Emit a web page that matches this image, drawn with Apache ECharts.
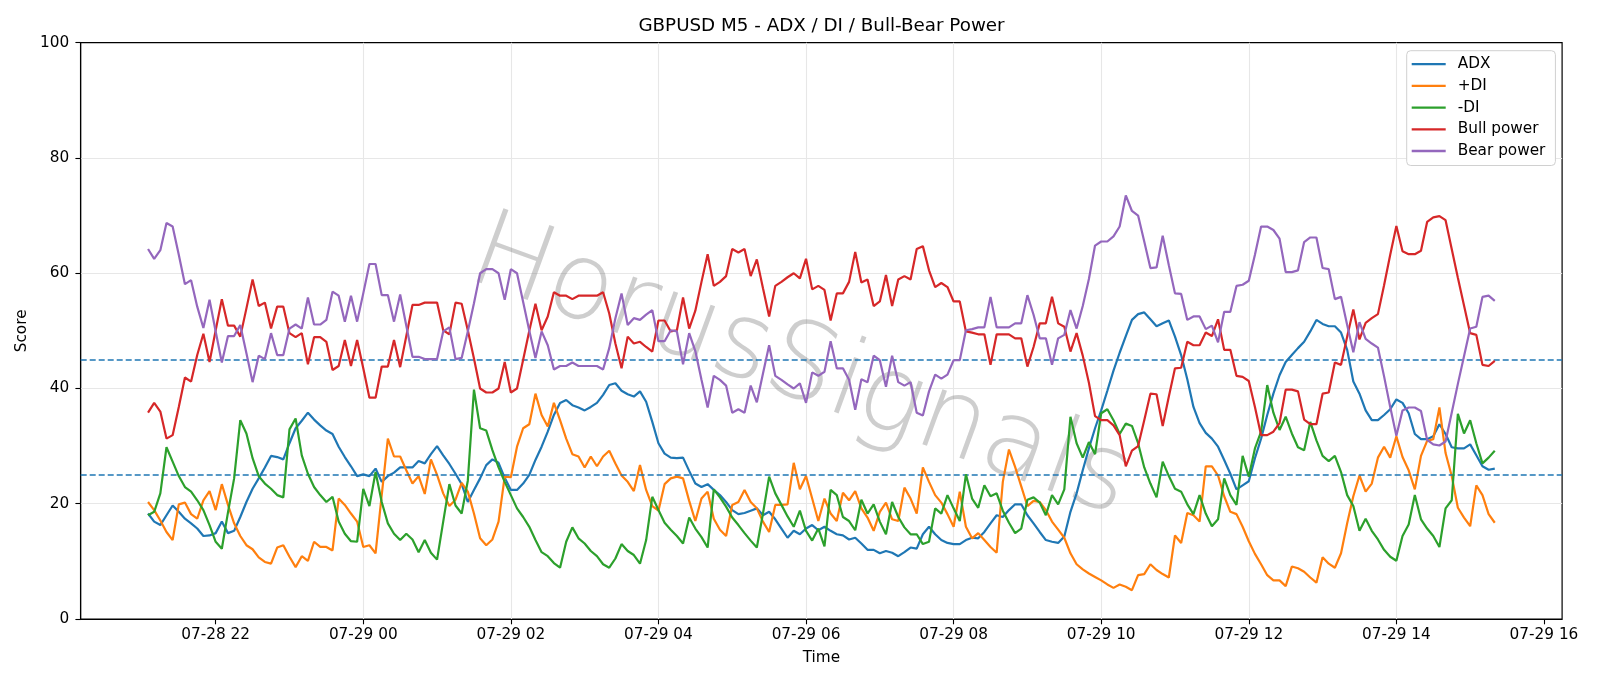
<!DOCTYPE html>
<html>
<head>
<meta charset="utf-8">
<script src="https://cdn.jsdelivr.net/npm/echarts@6/dist/echarts.min.js"></script>
<style>
html,body{margin:0;padding:0;background:#fff;}
#chart{width:1600px;height:686px;}
</style>
</head>
<body>
<div id="chart"></div>
<script>
// ---- data (M5 bars from 07-28 21:05 to 07-29 15:20, hours since 07-28 00:00) ----
const startHour = 21 + 5 / 60;
const stepHours = 5 / 60;
const xTicks = [22, 24, 26, 28, 30, 32, 34, 36, 38, 40];
const yTicks = [0, 20, 40, 60, 80, 100];
const seriesNames = ['ADX', '+DI', '-DI', 'Bull power', 'Bear power'];
const levels = [45, 25];

const adx = [
18.3,16.9,16.3,18.0,19.7,18.6,17.4,16.6,15.7,14.4,
14.5,14.9,16.9,14.9,15.3,17.7,20.3,22.6,24.4,26.3,
28.3,28.1,27.7,30.5,33.1,34.4,35.8,34.6,33.6,32.7,
32.1,29.9,28.1,26.5,24.8,25.1,24.8,26.1,
23.8,24.8,25.4,26.3,26.3,26.3,27.4,27.0,28.6,30.0,
28.4,26.9,25.2,23.4,20.3,22.4,24.4,26.7,27.7,27.1,
24.5,22.4,22.4,23.5,25.0,27.6,29.9,32.5,35.4,37.5,
38.0,37.1,36.7,36.2,36.8,37.5,38.9,40.6,
40.9,39.6,39.0,38.6,39.5,37.7,34.2,30.5,28.7,28.0,
27.9,28.0,25.7,23.5,22.9,23.4,22.4,21.5,20.3,18.9,
18.2,18.4,18.8,19.2,18.0,18.6,17.3,15.7,14.1,15.3,
14.7,15.7,16.3,15.4,16.0,15.3,14.7,
14.5,13.8,14.1,13.1,12.0,12.0,11.4,11.8,11.5,10.9,
11.6,12.4,12.2,14.7,16.0,14.7,13.7,13.2,13.0,13.0,
13.7,14.1,14.0,15.1,16.6,18.0,17.7,18.9,19.9,19.9,
18.0,16.6,15.1,13.7,13.4,13.2,14.3,18.6,
21.8,25.8,29.6,33.1,36.2,39.6,43.1,46.2,49.1,51.9,
52.9,53.2,52.0,50.8,51.3,51.8,49.0,45.8,41.6,36.8,
34.0,32.3,31.3,29.9,27.6,25.2,22.5,23.2,23.9,27.9,
31.3,35.4,39.1,42.3,44.6,45.8,47.0,
48.1,49.9,51.9,51.2,50.8,50.8,49.7,46.7,41.2,39.1,
36.2,34.5,34.5,35.4,36.4,38.1,37.5,35.7,32.1,31.2,
31.2,31.7,33.8,32.1,29.8,29.6,29.6,30.3,28.4,26.5,
25.9,26.1
];

const plusDI = [
20.3,18.9,17.1,15.1,13.7,19.9,20.2,18.2,17.4,20.6,
22.2,18.9,23.4,19.8,16.6,14.4,12.8,12.1,10.7,9.9,
9.6,12.4,12.8,10.8,9.0,10.9,10.1,13.4,12.5,12.5,
11.9,20.9,19.8,18.3,16.9,12.5,12.8,11.4,
21.5,31.3,28.2,28.2,25.8,23.5,24.8,21.7,27.7,25.0,
21.8,19.6,20.7,23.6,22.1,18.3,14.0,12.8,13.8,16.9,
24.7,24.6,29.9,33.1,33.8,39.1,35.4,33.4,37.5,34.5,
31.3,28.6,28.2,26.3,28.2,26.5,28.2,29.2,
27.0,24.9,23.8,22.2,26.7,22.4,19.6,18.8,23.4,24.4,
24.7,24.4,20.5,17.0,20.9,22.1,17.4,15.5,14.4,19.8,
20.3,22.4,20.3,19.2,16.9,15.1,19.8,19.8,19.9,27.1,
22.5,24.8,20.9,17.0,20.9,18.3,17.0,
21.9,20.6,22.2,19.2,17.6,15.3,18.6,20.2,17.3,17.0,
22.8,20.9,18.3,26.3,23.8,21.5,20.2,18.2,16.0,22.1,
16.0,14.0,14.9,13.7,12.5,11.5,23.8,29.4,26.4,23.0,
19.6,20.5,20.3,18.9,16.9,15.5,14.1,11.4,
9.5,8.6,7.9,7.3,6.7,6.0,5.4,6.0,5.6,5.0,
7.6,7.8,9.5,8.5,7.8,7.2,14.5,13.2,18.4,18.0,
16.9,26.5,26.5,24.9,21.3,18.6,18.2,16.0,13.5,11.3,
9.5,7.6,6.7,6.7,5.7,9.1,8.8,
8.2,7.2,6.3,10.7,9.6,8.9,11.4,16.6,21.3,24.9,
22.1,23.5,28.0,29.9,28.0,31.7,28.1,25.8,22.5,28.3,
30.9,31.2,36.7,28.8,24.8,19.3,17.6,16.1,23.2,21.5,
18.2,16.7
];

const minusDI = [
18.0,18.6,21.8,29.8,27.3,24.8,22.9,22.1,20.6,18.9,
16.3,13.4,12.2,18.5,24.4,34.5,32.2,27.9,24.8,23.5,
22.6,21.5,21.1,32.9,34.8,28.4,25.2,22.9,21.5,20.3,
21.2,16.9,14.8,13.5,13.4,22.6,19.6,25.5,
20.3,16.6,14.8,13.7,14.8,13.8,11.6,13.7,11.5,10.3,
16.9,23.4,19.7,18.3,24.0,39.8,33.1,32.7,29.3,26.3,
23.8,21.5,19.2,17.7,16.0,13.7,11.6,10.9,9.7,8.9,
13.4,15.9,14.0,13.1,11.8,10.9,9.5,8.9,
10.5,13.0,11.8,11.1,9.6,13.7,21.2,18.9,16.7,15.5,
14.4,13.1,17.6,15.7,14.2,12.4,22.5,21.1,19.5,17.6,
16.3,14.9,13.6,12.4,18.3,24.7,21.8,19.8,17.8,16.0,
18.8,15.3,13.6,15.7,12.6,22.4,21.5,
17.7,17.0,15.4,20.7,18.3,19.9,16.9,14.7,20.3,17.7,
15.9,14.7,14.7,13.0,13.4,19.2,18.3,21.5,19.2,17.0,
25.1,20.9,19.3,23.2,21.3,21.8,18.8,16.7,14.9,15.7,
20.7,21.1,20.2,18.0,21.5,19.9,22.5,35.1,
30.5,28.0,30.7,28.6,35.7,36.4,34.5,32.1,33.9,33.5,
30.5,26.3,23.5,21.1,27.3,24.8,22.6,22.1,19.9,18.2,
21.5,18.3,16.1,17.3,24.4,21.5,19.8,28.3,24.7,29.6,
32.5,40.6,35.8,32.8,35.1,32.2,29.8,
29.3,34.2,31.0,28.3,27.4,28.3,25.5,21.5,19.6,15.3,
17.4,15.3,13.8,12.0,10.8,10.1,14.4,16.4,21.5,17.3,
15.7,14.4,12.5,19.2,20.6,35.6,32.2,34.5,30.5,27.0,
28.0,29.2
];

const bullPower = [
35.8,37.5,36.0,31.3,31.9,36.8,41.9,41.2,45.8,49.5,
44.6,50.1,55.5,50.9,50.9,49.0,53.9,58.9,54.3,54.9,
50.4,54.2,54.2,49.6,48.9,49.6,44.2,48.9,48.9,48.1,
43.2,43.9,48.4,43.9,48.4,43.5,38.4,38.4,
43.8,43.8,48.4,43.7,49.1,54.5,54.5,54.9,54.9,54.9,
50.1,49.4,54.9,54.7,50.1,45.2,40.0,39.3,39.3,40.0,
44.6,39.3,40.0,45.0,50.0,54.7,50.1,52.5,56.7,56.1,
56.1,55.5,56.1,56.1,56.1,56.1,56.7,53.0,
47.8,43.5,49.0,47.8,48.1,47.2,46.4,51.8,51.8,49.9,
50.1,55.8,50.4,53.5,58.5,63.3,57.8,58.5,59.5,64.2,
63.6,64.2,59.5,62.4,57.4,52.5,57.8,58.5,59.3,60.0,
59.1,62.5,57.2,57.8,57.1,51.8,56.5,
56.5,58.5,63.7,58.4,58.9,54.3,55.1,59.7,54.3,58.9,
59.5,58.9,64.2,64.7,60.5,57.6,58.3,57.6,55.1,55.1,
49.9,49.7,49.4,49.4,44.1,49.4,49.4,49.4,48.7,48.7,
43.8,47.2,51.3,51.3,55.9,51.3,50.7,46.4,
49.6,45.7,41.0,35.2,34.5,34.5,33.6,31.9,26.5,29.2,
30.0,34.5,39.1,39.0,33.5,38.6,43.5,43.6,48.1,47.5,
47.5,49.7,49.1,52.0,46.7,46.7,42.2,42.0,41.3,36.8,
31.9,31.9,32.5,34.0,39.8,39.8,39.5,
34.6,33.8,33.8,39.1,39.3,44.5,44.1,49.0,53.7,48.5,
51.4,52.2,52.9,57.9,63.2,68.2,63.8,63.3,63.3,63.9,
68.9,69.7,69.9,69.2,64.2,59.2,54.4,49.6,49.3,44.1,
43.9,44.8
];

const bearPower = [
64.2,62.5,64.0,68.7,68.1,63.2,58.1,58.8,54.2,50.5,
55.4,49.9,44.5,49.1,49.1,51.0,46.1,41.1,45.7,45.1,
49.6,45.8,45.8,50.4,51.1,50.4,55.8,51.1,51.1,51.9,
56.8,56.1,51.6,56.1,51.6,56.5,61.6,61.6,
56.2,56.2,51.6,56.3,50.9,45.5,45.5,45.1,45.1,45.1,
49.9,50.6,45.1,45.3,49.9,54.8,60.0,60.7,60.7,60.0,
55.4,60.7,60.0,55.0,50.0,45.3,49.9,47.5,43.3,43.9,
43.9,44.5,43.9,43.9,43.9,43.9,43.3,47.0,
52.2,56.5,51.0,52.2,51.9,52.8,53.6,48.2,48.2,50.1,
49.9,44.2,49.6,46.5,41.5,36.7,42.2,41.5,40.5,35.8,
36.4,35.8,40.5,37.6,42.6,47.5,42.2,41.5,40.7,40.0,
40.9,37.5,42.8,42.2,42.9,48.2,43.5,
43.5,41.5,36.3,41.6,41.1,45.7,44.9,40.3,45.7,41.1,
40.5,41.1,35.8,35.3,39.5,42.4,41.7,42.4,44.9,44.9,
50.1,50.3,50.6,50.6,55.9,50.6,50.6,50.6,51.3,51.3,
56.2,52.8,48.7,48.7,44.1,48.7,49.3,53.6,
50.4,54.3,59.0,64.8,65.5,65.5,66.4,68.1,73.5,70.8,
70.0,65.5,60.9,61.0,66.5,61.4,56.5,56.4,51.9,52.5,
52.5,50.3,50.9,48.0,53.3,53.3,57.8,58.0,58.7,63.2,
68.1,68.1,67.5,66.0,60.2,60.2,60.5,
65.4,66.2,66.2,60.9,60.7,55.5,55.9,51.0,46.3,51.5,
48.6,47.8,47.1,42.1,36.8,31.8,36.2,36.7,36.7,36.1,
31.1,30.3,30.1,30.8,35.8,40.8,45.6,50.4,50.7,55.9,
56.1,55.2
];

const colors = ['#1f77b4', '#ff7f0e', '#2ca02c', '#d62728', '#9467bd'];
const values = [adx, plusDI, minusDI, bullPower, bearPower];
const times = adx.map((_, i) => startHour + i * stepHours);

function pad2(n) { return (n < 10 ? '0' : '') + n; }
function fmtHour(h) {
  const day = 28 + Math.floor(h / 24 + 1e-9);
  const hr = Math.round(h - 24 * Math.floor(h / 24 + 1e-9));
  return '07-' + pad2(day) + ' ' + pad2(hr);
}

const FONT = 'DejaVu Sans';
const chart = echarts.init(document.getElementById('chart'), null, {renderer: 'canvas'});

const series = seriesNames.map((name, k) => ({
  name: name,
  type: 'line',
  data: times.map((t, i) => [t, values[k][i]]),
  symbol: 'none',
  showSymbol: false,
  smooth: false,
  color: colors[k],
  itemStyle: {color: colors[k]},
  lineStyle: {color: colors[k], width: 2.2},
  z: 3 + k,
  emphasis: {disabled: true}
}));
series.push({
  name: 'levels',
  type: 'line',
  data: [],
  symbol: 'none',
  z: 9,
  markLine: {
    silent: true,
    symbol: ['none', 'none'],
    label: {show: false},
    animation: false,
    lineStyle: {color: '#1f77b4', width: 1.5, type: [6, 3]},
    data: levels.map(v => ({yAxis: v}))
  }
});

const option = {
  animation: false,
  backgroundColor: '#ffffff',
  textStyle: {fontFamily: FONT},
  grid: {
    left: 80.7, right: 37.9, top: 42.7, bottom: 67,
    show: true, borderColor: '#000', borderWidth: 1.2, backgroundColor: 'transparent',
    containLabel: false, outerBoundsMode: 'none'
  },
  graphic: [
    {
      type: 'text', x: 821.5, y: 26.5, z: 20,
      style: {text: 'GBPUSD M5 - ADX / DI / Bull-Bear Power', fontFamily: FONT, fontSize: 18.3,
              fill: '#000', align: 'center', verticalAlign: 'middle'}
    },
    {
      type: 'text', x: 800, y: 370, rotation: -0.35, z: 1, silent: true,
      style: {text: 'HorusSignals', fontFamily: "'DejaVu Sans ExtraLight', 'DejaVu Sans'", fontWeight: 200,
              fontSize: 107,
              fill: 'rgba(120,120,120,0.36)', align: 'center', verticalAlign: 'middle',
              shadowColor: 'rgba(120,120,120,0.2)', shadowBlur: 2, shadowOffsetX: 3, shadowOffsetY: 3}
    }
  ],
  legend: {
    data: seriesNames,
    orient: 'vertical',
    left: 1406.7, top: 50.7,
    padding: [6, 10, 7, 5],
    icon: 'rect',
    itemWidth: 34, itemHeight: 2.3, itemGap: 6.7,
    backgroundColor: '#fff',
    borderColor: '#d0d0d0', borderWidth: 1, borderRadius: 4,
    textStyle: {fontFamily: FONT, fontSize: 15.3, lineHeight: 15, color: '#000', padding: [0, 0, 0, 7]},
    selectedMode: false
  },
  xAxis: {
    type: 'value',
    min: 20.1708, max: 40.2458,
    name: 'Time', nameLocation: 'middle', nameGap: 32,
    nameTextStyle: {fontFamily: FONT, fontSize: 15.3, color: '#000'},
    axisLine: {show: true, onZero: false, lineStyle: {color: '#000', width: 1.1}},
    axisTick: {show: true, inside: false, length: 5.3, customValues: xTicks, lineStyle: {color: '#000', width: 1.1}},
    axisLabel: {show: true, customValues: xTicks, margin: 9, fontFamily: FONT, fontSize: 15.3, color: '#000',
                formatter: v => fmtHour(v)},
    splitLine: {show: true, showMinLine: false, showMaxLine: false, lineStyle: {color: '#e7e7e7', width: 1.1}}
  },
  yAxis: {
    type: 'value',
    min: 0, max: 100, interval: 20,
    name: 'Score', nameLocation: 'middle', nameGap: 42.5,
    nameTextStyle: {fontFamily: FONT, fontSize: 15.3, color: '#000'},
    axisLine: {show: true, lineStyle: {color: '#000', width: 1.1}},
    axisTick: {show: true, inside: false, length: 5.3, lineStyle: {color: '#000', width: 1.1}},
    axisLabel: {margin: 11.5, fontFamily: FONT, fontSize: 15.3, color: '#000',
                formatter: v => String(v)},
    splitLine: {show: true, showMinLine: false, showMaxLine: false, lineStyle: {color: '#e7e7e7', width: 1.1}}
  },
  series: series
};
chart.setOption(option);
</script>
</body>
</html>
